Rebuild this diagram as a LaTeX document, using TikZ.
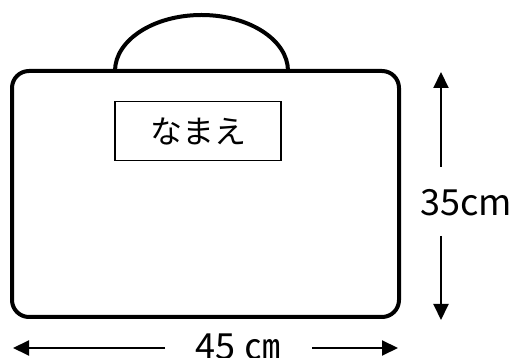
\documentclass[tikz,border=0pt]{standalone}
\usepackage{fontspec}
\setmainfont{Noto Sans CJK JP}
\usetikzlibrary{arrows.meta}
\tikzset{
    x=1pt, y=1pt, >={Triangle[length=16pt, width=15pt]},
    bag/.style={draw=black, line width=4pt, rounded corners=17pt},
    handle/.style={draw=black, line width=4pt},
    namebox/.style={draw=black, line width=1.5pt, minimum width=166pt, minimum height=59pt, font=\fontsize{32}{32}\selectfont},
    dimline/.style={draw=black, line width=2pt, ->},
    dimlabel/.style={font=\fontsize{36}{36}\selectfont, inner sep=0pt},
}

\begin{document}
\begin{tikzpicture}
    \useasboundingbox (0,0) rectangle (517,358);
    % bag and handle
    \draw [bag] (12,41) rectangle (399,287);
    \draw [handle] (115,287) arc [start angle=180, end angle=0, x radius=86.5, y radius=56];
    \node [namebox] (name-box) at (198,227) {なまえ};
    % height
    \coordinate (height-top) at (441,286);
    \coordinate (height-gap-top) at (441,191);
    \coordinate (height-gap-bot) at (441,122);
    \coordinate (height-bot) at (441,38);
    \node [dimlabel] (height-label) at (466,155) {35cm};
    \draw [dimline] (height-gap-top) -- (height-top);
    \draw [dimline] (height-gap-bot) -- (height-bot);
    % width
    \coordinate (width-left) at (13,10);
    \coordinate (width-gap-left) at (165,10);
    \coordinate (width-gap-right) at (312,10);
    \coordinate (width-right) at (398,10);
    \node [dimlabel, anchor=base] (width-label) at (238,-2) {45 ㎝};
    \draw [dimline] (width-gap-left) -- (width-left);
    \draw [dimline] (width-gap-right) -- (width-right);
\end{tikzpicture}
\end{document}
